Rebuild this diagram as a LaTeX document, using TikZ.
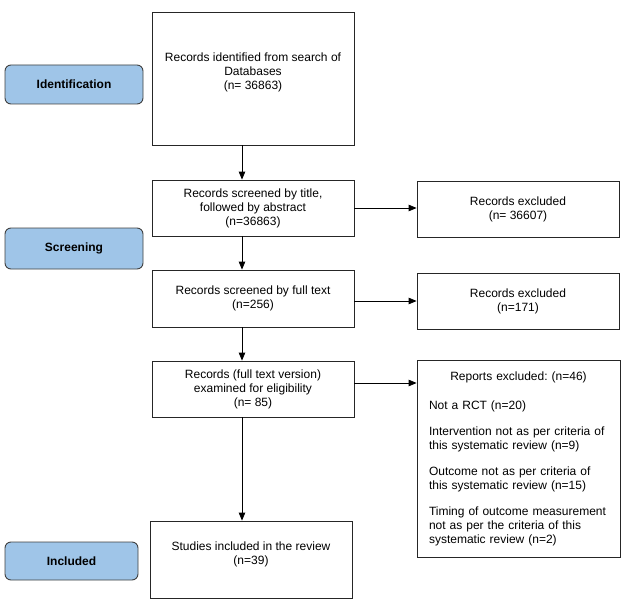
\documentclass[tikz,border=0pt]{standalone}
\usepackage{fontspec}
\setmainfont{Liberation Sans}
\usetikzlibrary{arrows.meta}
\definecolor{phaseblue}{HTML}{9FC5E8}
\newcommand{\lowpad}[1]{\rule[-#1]{0pt}{#1}}
\frenchspacing
\tikzset{
  box/.style={draw=black!85, line width=0.8pt, rectangle, align=center, inner sep=0pt},
  phase/.style={draw=black!75, line width=0.9pt, fill=phaseblue, rounded corners=6pt, font=\fontsize{12}{14}\selectfont\bfseries},
  arr/.style={line width=0.8pt, -{Triangle[length=8pt,width=6.5pt]}}
}

\begin{document}
\begin{tikzpicture}[x=1pt, y=-1pt, font=\fontsize{12}{14}\selectfont]
\useasboundingbox (0,0) rectangle (626,615);

\node[phase, minimum width=138pt, minimum height=39pt] (ident) at (74,84.5) {Identification};
\node[phase, minimum width=138pt, minimum height=41pt] (screen) at (74,248.5) {Screening};
\node[phase, minimum width=133pt, minimum height=38pt] (incl) at (71.5,561) {Included};

\node[box, minimum width=202pt, minimum height=133pt] (search) at (253,78.5) {Records identified from search of\\ Databases\\ (n= 36863)\lowpad{15pt}};
\node[box, minimum width=202pt, minimum height=56pt] (title) at (253,208) {Records screened by title,\\ followed by abstract\\ (n=36863)};
\node[box, minimum width=202pt, minimum height=57pt] (full) at (253,298.5) {Records screened by full text\\ (n=256)};
\node[box, minimum width=202pt, minimum height=56pt] (elig) at (253,389) {Records (full text version)\\ examined for eligibility\\ (n= 85)};
\node[box, minimum width=202pt, minimum height=77pt] (studies) at (251,559.5) {Studies included in the review\\ (n=39)\lowpad{12pt}};

\node[box, minimum width=202pt, minimum height=56pt] (exctitle) at (518,209) {Records excluded\\ (n= 36607)};
\node[box, minimum width=202pt, minimum height=56pt] (excfull) at (518,301) {Records excluded\\ (n=171)};
\node[box, minimum width=203pt, minimum height=197pt, text width=179pt, align=left] (reports) at (518.5,458.5) {\makebox[179pt]{Reports excluded: (n=46)}\\[15pt]
Not a RCT (n=20)\\[12pt]
Intervention not as per criteria of\\ this systematic review (n=9)\\[12pt]
Outcome not as per criteria of\\ this systematic review (n=15)\\[12pt]
Timing of outcome measurement\\ not as per the criteria of this\\ systematic review (n=2)};

\coordinate (spine) at (242,0);
\draw[arr] (search.south -| spine) -- (title.north -| spine);
\draw[arr] (title.south -| spine) -- (full.north -| spine);
\draw[arr] (full.south -| spine) -- (elig.north -| spine);
\draw[arr] (elig.south -| spine) -- (studies.north -| spine);

\draw[arr] (title.east) -- (title.east -| exctitle.west);
\draw[arr] ([yshift=-2.5pt]full.east) -- ([yshift=-2.5pt]full.east -| excfull.west);
\draw[arr] ([yshift=6pt]elig.east) -- ([yshift=6pt]elig.east -| reports.west);
\end{tikzpicture}
\end{document}
